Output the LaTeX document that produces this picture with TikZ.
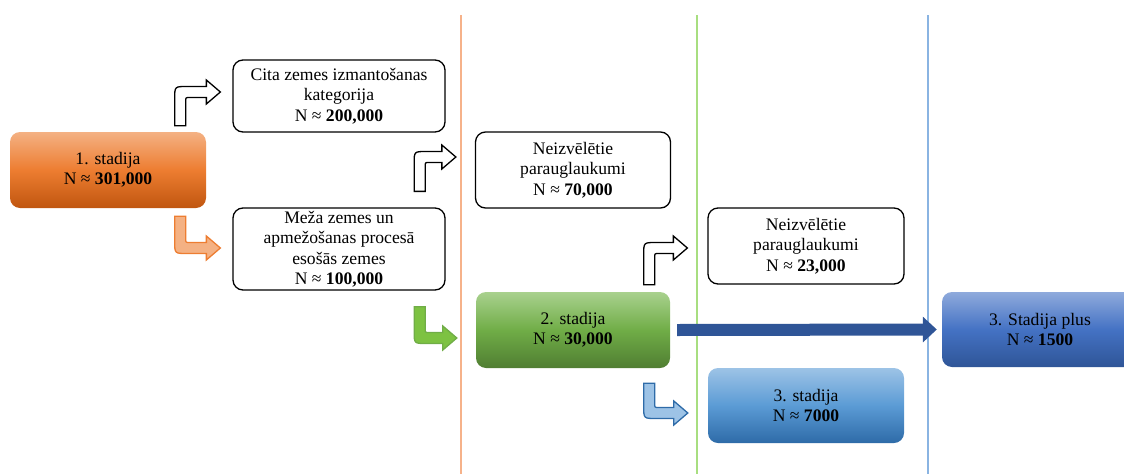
\documentclass[tikz,border=0pt]{standalone}
\usepackage{fontspec}
\setmainfont{Liberation Serif}
\usetikzlibrary{calc,arrows.meta}

\definecolor{orangeL}{HTML}{F4B183}
\definecolor{orangeM}{HTML}{ED7D31}
\definecolor{orangeD}{HTML}{C0560F}
\definecolor{greenL}{HTML}{A9D18E}
\definecolor{greenM}{HTML}{70AD47}
\definecolor{greenD}{HTML}{507E32}
\definecolor{greenF}{HTML}{7DC242}
\definecolor{blueL}{HTML}{9DC3E6}
\definecolor{blueM}{HTML}{5B9BD5}
\definecolor{blueD}{HTML}{2E6BA8}
\definecolor{navyL}{HTML}{8FAADC}
\definecolor{navyM}{HTML}{4472C4}
\definecolor{navyD}{HTML}{2F5597}
\definecolor{lineO}{HTML}{F6B28A}
\definecolor{lineG}{HTML}{A8DE80}
\definecolor{lineB}{HTML}{8AB4E2}

\tikzset{
  base/.style={rounded corners=10pt, align=center, inner sep=0pt,
    font=\fontsize{17.6}{20.5}\selectfont},
  whitebox/.style={base, draw=black, line width=1.3pt, fill=white},
  stageO/.style={base, top color=orangeL, bottom color=orangeD, middle color=orangeM},
  stageG/.style={base, top color=greenL, bottom color=greenD, middle color=greenM},
  stageB/.style={base, top color=blueL, bottom color=blueD, middle color=blueM},
  stageN/.style={base, top color=navyL, bottom color=navyD, middle color=navyM},
  bentW/.style={draw=black, fill=white, line width=1.3pt},
  bentO/.style={draw=orangeM, fill=orangeL, line width=1.3pt},
  bentG/.style={draw=greenM, fill=greenF, line width=1.3pt},
  bentB/.style={draw=blueD, fill=blueL, line width=1.3pt},
  bigarrow/.style={navyD, line width=12pt, -{Triangle[length=14pt,width=25pt]}},
}

% #1 stem end, #2 tip, #3 style, #4 = 1 turns up, -1 turns down
\newcommand\bentarrow[4]{%
  \path[#3] let \p1=#1, \p2=#2 in
    ({\x1-5.5pt},\y1) -- ({\x1-5.5pt},{\y2-#4*6.5pt})
    .. controls ({\x1-5.5pt},{\y2+#4*5.5pt}) .. ({\x1+6.5pt},{\y2+#4*5.5pt})
    -- ({\x2-14pt},{\y2+#4*5.5pt}) -- ({\x2-14pt},{\y2+#4*12pt}) -- (\x2,\y2)
    -- ({\x2-14pt},{\y2-#4*12pt}) -- ({\x2-14pt},{\y2-#4*5.5pt})
    -- ({\x1+9.5pt},{\y2-#4*5.5pt})
    .. controls ({\x1+5.5pt},{\y2-#4*5.5pt}) .. ({\x1+5.5pt},{\y2-#4*9.5pt})
    -- ({\x1+5.5pt},\y1) -- cycle;}

\begin{document}
\begin{tikzpicture}[x=1pt, y=-1pt]
  \clip (0,0) rectangle (1124,474);

  \def \Lines {461/lineO, 697/lineG, 928/lineB}
  \foreach \x / \c in \Lines {
    \draw[\c, line width=1.5pt] (\x,15) -- (\x,474);
  }

  \node[stageO, minimum width=196pt, minimum height=76pt] (s1) at (108,170)
    {1. stadija\\N ≈ \textbf{301,000}};
  \node[whitebox, minimum width=212pt, minimum height=72pt] (cita) at (339,96)
    {Cita zemes izmantošanas\\kategorija\\N ≈ \textbf{200,000}};
  \node[whitebox, minimum width=212pt, minimum height=82pt] (meza) at (339,249)
    {Meža zemes un\\apmežošanas procesā\\esošās zemes\\N ≈ \textbf{100,000}};
  \node[whitebox, minimum width=195pt, minimum height=76pt] (n70) at (573,170)
    {Neizvēlētie\\parauglaukumi\\N ≈ \textbf{70,000}};
  \node[stageG, minimum width=194pt, minimum height=76pt] (s2) at (573,330)
    {2. stadija\\N ≈ \textbf{30,000}};
  \node[whitebox, minimum width=196pt, minimum height=76pt] (n23) at (806,246)
    {Neizvēlētie\\parauglaukumi\\N ≈ \textbf{23,000}};
  \node[stageB, minimum width=196pt, minimum height=75pt] (s3) at (806,405.5)
    {3. stadija\\N ≈ \textbf{7000}};
  \node[stageN, minimum width=196pt, minimum height=75pt] (s3p) at (1040,329.5)
    {3. Stadija plus\\N ≈ \textbf{1500}};

  \bentarrow{($(s1.north east)+(-26,-6)$)}{($(cita.west)+(-12,-4)$)}{bentW}{1}
  \bentarrow{($(s1.south east)+(-26,8)$)}{($(meza.west)+(-12,-1)$)}{bentO}{-1}
  \bentarrow{($(meza.north east)+(-26,-16)$)}{($(n70.west)+(-19,-13)$)}{bentW}{1}
  \bentarrow{($(meza.south east)+(-26,16)$)}{($(s2.west)+(-19,8)$)}{bentG}{-1}
  \bentarrow{($(s2.north east)+(-21,-7)$)}{($(n23.west)+(-20,2)$)}{bentW}{1}
  \bentarrow{($(s2.south east)+(-21,15)$)}{($(s3.west)+(-20,7.5)$)}{bentB}{-1}

  \draw[bigarrow] ($(s2.east)+(7,0)$) -- ($(s3p.west)+(-5,0)$);
\end{tikzpicture}
\end{document}
